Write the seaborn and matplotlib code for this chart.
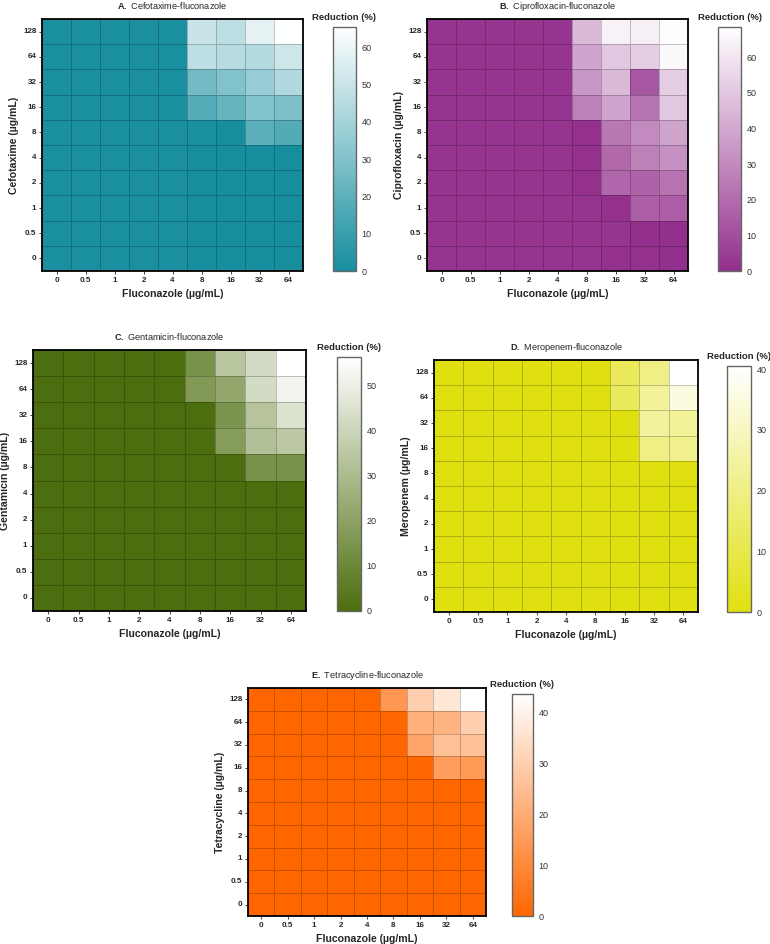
import numpy as np
import pandas as pd
import matplotlib.pyplot as plt
import seaborn as sns
from matplotlib.colors import LinearSegmentedColormap

# Checkerboard axes (antibiotic rows from top 128 down to 0)
fluconazole_doses = ["0", "0.5", "1", "2", "4", "8", "16", "32", "64"]
antibiotic_doses = ["128", "64", "32", "16", "8", "4", "2", "1", "0.5", "0"]

# Reduction (%)
cefotaxime = [
    [1, 1, 1, 1, 1, 50, 47, 58, 65],
    [1, 1, 1, 1, 1, 47, 45, 44, 51],
    [1, 1, 1, 1, 1, 26, 30, 36, 43],
    [1, 1, 1, 1, 1, 18, 22, 30, 29],
    [1, 1, 1, 1, 1, 1, 0, 19, 17],
    [1, 1, 1, 1, 1, 0, 0, 0, 0],
    [1, 1, 1, 1, 1, 0, 0, 0, 0],
    [1, 1, 1, 1, 1, 0, 0, 0, 0],
    [1, 1, 1, 1, 1, 0, 0, 0, 0],
    [1, 1, 1, 1, 1, 0, 0, 0, 0],
]
ciprofloxacin = [
    [2, 2, 2, 2, 2, 46, 64, 63, 68],
    [2, 2, 2, 2, 2, 39, 50, 52, 66],
    [2, 2, 2, 2, 2, 34, 46, 13, 52],
    [2, 2, 2, 2, 2, 27, 39, 23, 50],
    [2, 2, 2, 2, 2, 1, 24, 30, 39],
    [2, 2, 2, 2, 2, 1, 19, 27, 32],
    [2, 2, 2, 2, 2, 1, 18, 17, 22],
    [2, 2, 2, 2, 2, 2, 1, 15, 15],
    [2, 2, 2, 2, 2, 2, 2, 0, 0],
    [2, 2, 2, 2, 2, 2, 1, 1, 0],
]
gentamicin = [
    [0, 0, 0, 0, 0, 14, 34, 42, 56],
    [0, 0, 0, 0, 0, 17, 22, 42, 52],
    [0, 0, 0, 0, 0, 0, 15, 33, 45],
    [0, 0, 0, 0, 0, 0, 18, 32, 35],
    [0, 0, 0, 0, 0, 0, 0, 14, 14],
    [0, 0, 0, 0, 0, 0, 0, 0, 0],
    [0, 0, 0, 0, 0, 0, 0, 0, 0],
    [0, 0, 0, 0, 0, 0, 0, 0, 0],
    [0, 0, 0, 0, 0, 0, 0, 0, 0],
    [0, 0, 0, 0, 0, 0, 0, 0, 0],
]
meropenem = [
    [0, 0, 0, 0, 0, 0, 12.5, 20, 40.5],
    [0, 0, 0, 0, 0, 0, 13, 23, 35],
    [0, 0, 0, 0, 0, 0, 0, 24, 23],
    [0, 0, 0, 0, 0, 0, 0, 20, 21],
    [0, 0, 0, 0, 0, 0, 0, 0, 0],
    [0, 0, 0, 0, 0, 0, 0, 0, 0],
    [0, 0, 0, 0, 0, 0, 0, 0, 0],
    [0, 0, 0, 0, 0, 0, 0, 0, 0],
    [0, 0, 0, 0, 0, 0, 0, 0, 0],
    [0, 0, 0, 0, 0, 0, 0, 0, 0],
]
tetracycline = [
    [0, 0, 0, 0, 0, 14, 30, 37, 44],
    [0, 0, 0, 0, 0, 0, 21, 22, 30],
    [0, 0, 0, 0, 0, 0, 18, 26, 26],
    [0, 0, 0, 0, 0, 0, 0, 16, 15],
    [0, 0, 0, 0, 0, 0, 0, 0, 0],
    [0, 0, 0, 0, 0, 0, 0, 0, 0],
    [0, 0, 0, 0, 0, 0, 0, 0, 0],
    [0, 0, 0, 0, 0, 0, 0, 0, 0],
    [0, 0, 0, 0, 0, 0, 0, 0, 0],
    [0, 0, 0, 0, 0, 0, 0, 0, 0],
]

W, H = 770, 944


def box(x0, y0, x1, y1):
    # pixel box (top-left origin) -> figure fraction rect
    return [x0 / W, 1 - y1 / H, (x1 - x0) / W, (y1 - y0) / H]


panels = [
    dict(letter="A.", name="Cefotaxime", values=cefotaxime, color="#168e9e", vmax=65.5,
         ticks=range(0, 61, 10), hm=(42, 19, 303, 271), cb=(333, 27, 356, 271)),
    dict(letter="B.", name="Ciprofloxacin", values=ciprofloxacin, color="#932f8c", vmax=68.5,
         ticks=range(0, 61, 10), hm=(427, 19, 688, 271), cb=(718, 27, 741, 271)),
    dict(letter="C.", name="Gentamicin", values=gentamicin, color="#4d6e0e", vmax=56.2,
         ticks=range(0, 51, 10), hm=(33, 350, 306, 611), cb=(337, 357, 361, 611)),
    dict(letter="D.", name="Meropenem", values=meropenem, color="#e0e010", vmax=40.5,
         ticks=range(0, 41, 10), hm=(434, 360, 698, 612), cb=(727, 366, 751, 612)),
    dict(letter="E.", name="Tetracycline", values=tetracycline, color="#ff6600", vmax=43.7,
         ticks=range(0, 41, 10), hm=(248, 688, 486, 916), cb=(512, 694, 533, 916)),
]

sns.set_theme(style="white")
plt.rcParams["font.family"] = ["Liberation Sans", "DejaVu Sans"]
plt.rcParams["mathtext.fontset"] = "custom"
plt.rcParams["mathtext.bf"] = "Liberation Sans:bold"
plt.rcParams["mathtext.rm"] = "Liberation Sans"

fig = plt.figure(figsize=(W / 100, H / 100), dpi=100)

for p in panels:
    ax = fig.add_axes(box(*p["hm"]))
    cax = fig.add_axes(box(*p["cb"]))
    df = pd.DataFrame(p["values"], index=antibiotic_doses, columns=fluconazole_doses)
    cmap = LinearSegmentedColormap.from_list(p["name"], [p["color"], "#ffffff"])
    sns.heatmap(df, ax=ax, cbar_ax=cax, cmap=cmap, vmin=0, vmax=p["vmax"],
                linewidths=0.6, linecolor=(0, 0, 0, 0.22), square=False)

    ax.set_title(r"$\mathbf{" + p["letter"] + "}$ " + p["name"] + "-fluconazole",
                 fontsize=6.6, pad=7)
    ax.set_xlabel("Fluconazole (µg/mL)", fontsize=7.6, fontweight="bold", labelpad=4)
    ax.set_ylabel(p["name"] + " (µg/mL)", fontsize=7.6, fontweight="bold", labelpad=3)
    ax.tick_params(axis="both", which="both", length=2, width=0.6, pad=2,
                   labelsize=5.8, color="#222222", bottom=True, left=True)
    for lab in ax.get_xticklabels() + ax.get_yticklabels():
        lab.set_fontweight("bold")
    plt.setp(ax.get_xticklabels(), rotation=0)
    plt.setp(ax.get_yticklabels(), rotation=0)
    for sp in ax.spines.values():
        sp.set_visible(True)
        sp.set_color("black")
        sp.set_linewidth(1.3)

    cbar = ax.collections[0].colorbar
    cbar.set_ticks(list(p["ticks"]))
    cax.tick_params(axis="y", direction="in", left=True, right=True, length=2.5,
                    width=0.6, color="#222222", labelsize=6.5, labelcolor="#333333", pad=4)
    cbar.outline.set_edgecolor("#666666")
    cbar.outline.set_linewidth(1.0)
    cax.set_title("Reduction (%)", fontsize=6.8, fontweight="bold", pad=5)

fig.savefig("out.png", dpi=100)
